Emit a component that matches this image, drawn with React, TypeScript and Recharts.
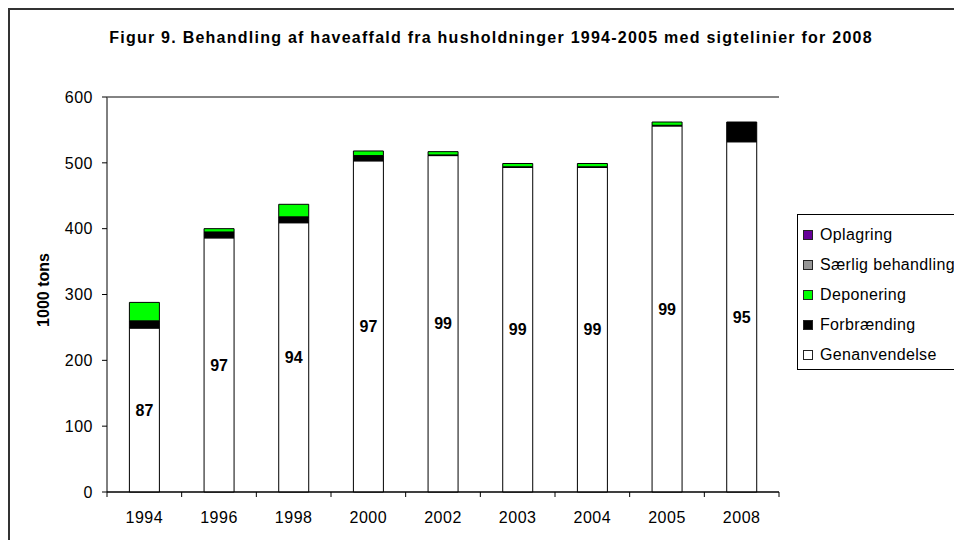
import React from 'react';
import { BarChart, Bar, XAxis, YAxis, CartesianGrid, Legend, LabelList } from 'recharts';

const years = ['1994', '1996', '1998', '2000', '2002', '2003', '2004', '2005', '2008'];
const genanvendelse = [249, 386, 409, 503, 511, 493, 493, 556, 532];
const forbraending = [11, 9, 9, 8, 1, 1, 1, 1, 30];
const deponering = [28, 5, 19, 7, 5, 5, 5, 5, 0];
const saerligBehandling = [0, 0, 0, 0, 0, 0, 0, 0, 0];
const oplagring = [0, 0, 0, 0, 0, 0, 0, 0, 0];
const genanvendelsePct = [87, 97, 94, 97, 99, 99, 99, 99, 95];
const yTicks = [0, 100, 200, 300, 400, 500, 600];
const legendOrder = ['Oplagring', 'Særlig behandling', 'Deponering', 'Forbrænding', 'Genanvendelse'];

const title = 'Figur 9. Behandling af haveaffald fra husholdninger 1994-2005 med sigtelinier for 2008';
const yLabel = '1000 tons';

const data = years.map((year, i) => ({
  year,
  genanvendelse: genanvendelse[i],
  forbraending: forbraending[i],
  deponering: deponering[i],
  saerlig: saerligBehandling[i],
  oplagring: oplagring[i],
  pct: genanvendelsePct[i],
}));

const FONT = 'Arial, "Liberation Sans", sans-serif';
const W = 952;
const H = 530;
const PLOT_LEFT = 97;
const PLOT_TOP = 87;
const PLOT_RIGHT = 769;
const PLOT_BOTTOM = 482;
const PLOT_W = PLOT_RIGHT - PLOT_LEFT;
const BAND = PLOT_W / years.length;

function XTick(props: any) {
  const { x, payload, index } = props;
  const isLast = index === years.length - 1;
  return (
    <g>
      <line x1={x - BAND / 2} x2={x - BAND / 2} y1={PLOT_BOTTOM} y2={PLOT_BOTTOM + 5} stroke="#000" />
      {isLast && (
        <line x1={x + BAND / 2} x2={x + BAND / 2} y1={PLOT_BOTTOM} y2={PLOT_BOTTOM + 5} stroke="#000" />
      )}
      <text x={x} y={PLOT_BOTTOM + 31} textAnchor="middle" fontSize={16} fill="#000" fontFamily={FONT} letterSpacing={0.5}>
        {payload.value}
      </text>
    </g>
  );
}

function LegendContent(props: any) {
  const items = [...(props.payload || [])].sort(
    (a: any, b: any) => legendOrder.indexOf(a.value) - legendOrder.indexOf(b.value)
  );
  return (
    <div
      style={{
        borderLeft: '1px solid #000',
        borderTop: '1px solid #000',
        borderBottom: '1px solid #000',
        height: 156,
        boxSizing: 'border-box',
        paddingTop: 5,
        fontFamily: FONT,
        fontSize: 16,
        color: '#000',
      }}
    >
      {items.map((it: any) => (
        <div key={it.value} style={{ height: 30, display: 'flex', alignItems: 'center', position: 'relative' }}>
          <span
            style={{
              position: 'absolute',
              left: 5,
              width: 10,
              height: 10,
              boxSizing: 'border-box',
              border: '1px solid #222',
              background: it.color,
            }}
          />
          <span style={{ position: 'absolute', left: 22, whiteSpace: 'nowrap', letterSpacing: 0.35 }}>{it.value}</span>
        </div>
      ))}
    </div>
  );
}

export default function App() {
  return (
    <div
      style={{
        position: 'relative',
        width: W,
        height: H,
        borderLeft: '2px solid #333',
        borderTop: '2px solid #333',
        background: '#fff',
      }}
    >
      <BarChart
        width={W}
        height={H}
        data={data}
        margin={{ top: PLOT_TOP, right: W - PLOT_RIGHT, bottom: 18, left: 0 }}
        barCategoryGap="30%"
      >
        <CartesianGrid vertical={false} stroke="#000" />
        <XAxis
          dataKey="year"
          height={30}
          axisLine={{ stroke: '#000' }}
          tickLine={false}
          tick={<XTick />}
          interval={0}
        />
        <YAxis
          yAxisId="left"
          width={PLOT_LEFT}
          domain={[0, 600]}
          ticks={yTicks}
          interval={0}
          axisLine={{ stroke: '#000' }}
          tickLine={{ stroke: '#000' }}
          tickSize={5}
          tickMargin={9}
          tick={{ fontSize: 16, fill: '#000', fontFamily: FONT, letterSpacing: 0.5 }}
        />
        <YAxis
          yAxisId="right"
          orientation="right"
          width={0}
          domain={[0, 600]}
          tick={false}
          tickLine={false}
          axisLine={{ stroke: '#888' }}
        />
        <Legend
          layout="vertical"
          align="center"
          verticalAlign="middle"
          content={<LegendContent />}
          wrapperStyle={{ position: 'absolute', left: 787, top: 204, width: 165, height: 156 }}
        />
        <Bar yAxisId="left" dataKey="genanvendelse" name="Genanvendelse" stackId="a" fill="#ffffff" stroke="#000" strokeWidth={1} isAnimationActive={false}>
          <LabelList dataKey="pct" position="center" fill="#000" fontSize={16} fontWeight="bold" fontFamily={FONT} />
        </Bar>
        <Bar yAxisId="left" dataKey="forbraending" name="Forbrænding" stackId="a" fill="#000000" stroke="#000" strokeWidth={1} isAnimationActive={false} />
        <Bar yAxisId="left" dataKey="deponering" name="Deponering" stackId="a" fill="#00ff00" stroke="#000" strokeWidth={1} isAnimationActive={false} />
        <Bar yAxisId="left" dataKey="saerlig" name="Særlig behandling" stackId="a" fill="#969696" stroke="#000" strokeWidth={1} isAnimationActive={false} />
        <Bar yAxisId="left" dataKey="oplagring" name="Oplagring" stackId="a" fill="#660099" stroke="#000" strokeWidth={1} isAnimationActive={false} />
      </BarChart>
      <svg width={W} height={H} style={{ position: 'absolute', left: 0, top: 0, pointerEvents: 'none' }}>
        <line x1={PLOT_LEFT} x2={PLOT_RIGHT} y1={PLOT_TOP} y2={PLOT_TOP} stroke="#888" />
        <text x={481} y={33} textAnchor="middle" fontSize={16} fontWeight="bold" fontFamily={FONT} fill="#000" letterSpacing={1.25}>
          {title}
        </text>
        <text
          x={39}
          y={280}
          transform="rotate(-90 39 280)"
          textAnchor="middle"
          fontSize={16}
          fontWeight="bold"
          fontFamily={FONT}
          fill="#000"
        >
          {yLabel}
        </text>
      </svg>
    </div>
  );
}
